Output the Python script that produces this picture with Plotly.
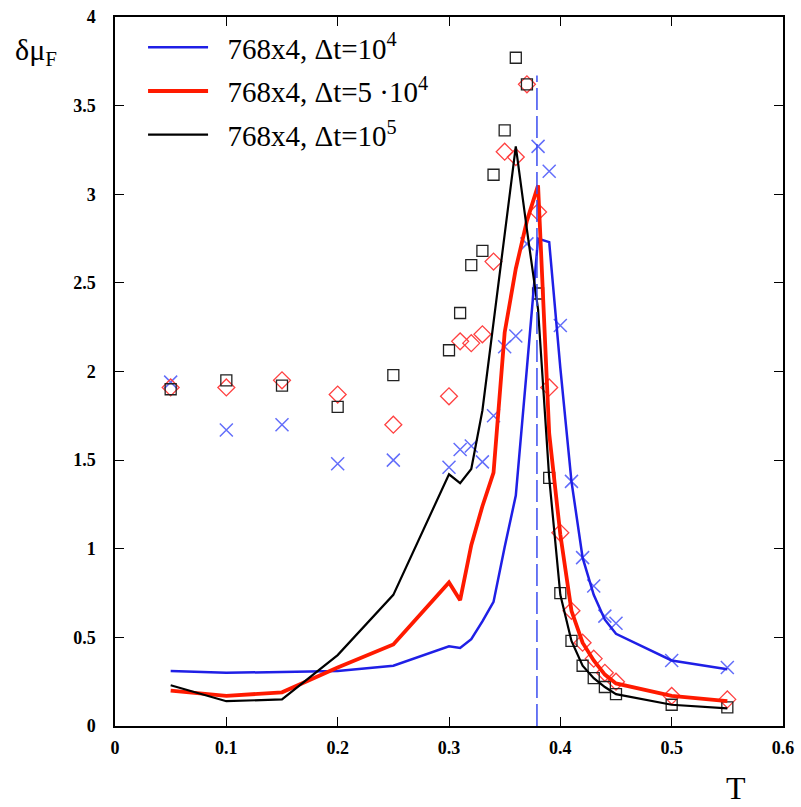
import plotly.graph_objects as go

# ---- data ----
T = [0.05, 0.10, 0.15, 0.20, 0.25, 0.30, 0.31, 0.32, 0.33, 0.34, 0.35, 0.36,
     0.37, 0.38, 0.39, 0.40, 0.41, 0.42, 0.43, 0.44, 0.45, 0.50, 0.55]

# lines
line_dt1e4 = [0.31, 0.30, 0.305, 0.31, 0.34, 0.45, 0.44, 0.49, 0.59, 0.70, 1.01, 1.30,
              2.02, 2.75, 2.73, 2.02, 1.38, 0.95, 0.74, 0.60, 0.52, 0.37, 0.32]
line_dt5e4 = [0.20, 0.17, 0.19, 0.33, 0.46, 0.81, 0.71, 1.02, 1.24, 1.43, 2.22, 2.58,
              2.85, 3.05, 1.65, 1.08, 0.65, 0.47, 0.37, 0.29, 0.24, 0.17, 0.14]
line_dt1e5 = [0.23, 0.14, 0.15, 0.40, 0.74, 1.42, 1.37, 1.45, 1.78, 2.28, 2.78, 3.27,
              2.80, 2.35, 1.40, 0.74, 0.48, 0.34, 0.27, 0.22, 0.18, 0.12, 0.10]

# symbols
pts_x = [1.94, 1.67, 1.70, 1.48, 1.50, 1.46, 1.56, 1.58, 1.49, 1.75, 2.14, 2.20,
         2.72, 3.27, 3.13, 2.26, 1.38, 0.95, 0.79, 0.62, 0.58, 0.37, 0.33]
pts_diamond = [1.91, 1.91, 1.95, 1.87, 1.70, 1.86, 2.17, 2.16, 2.21, 2.62, 3.24, 3.21,
               3.62, 2.90, 1.91, 1.09, 0.65, 0.47, 0.38, 0.30, 0.25, 0.17, 0.15]
pts_square = [1.90, 1.95, 1.92, 1.80, 1.98, 2.12, 2.33, 2.60, 2.68, 3.11, 3.36, 3.77,
              3.62, 2.44, 1.40, 0.75, 0.48, 0.34, 0.27, 0.22, 0.18, 0.12, 0.105]

Tc = 0.379
Tc_top = 3.67

names = ["\u00a0\u00a0768x4, \u0394t=10<sup>4</sup>",
         "\u00a0\u00a0768x4, \u0394t=5 \u00b710<sup>4</sup>",
         "\u00a0\u00a0768x4, \u0394t=10<sup>5</sup>"]

x_ticks = [0, 0.1, 0.2, 0.3, 0.4, 0.5, 0.6]
x_ticktext = ["0", "0.1", "0.2", "0.3", "0.4", "0.5", "0.6"]
y_ticks = [0, 0.5, 1, 1.5, 2, 2.5, 3, 3.5, 4]
y_ticktext = ["0", "0.5", "1", "1.5", "2", "2.5", "3", "3.5", "4"]

BLUE = "#1f1fe6"
RED = "#ff1a00"
BLACK = "#000000"
SERIF = "Liberation Serif"

fig = go.Figure()

# symbols (no legend)
fig.add_trace(go.Scatter(x=T, y=pts_x, mode="markers", showlegend=False,
                         marker=dict(symbol="x-thin-open", size=13,
                                     line=dict(color="#4a55f0", width=1.5))))
fig.add_trace(go.Scatter(x=T, y=pts_diamond, mode="markers", showlegend=False,
                         marker=dict(symbol="diamond-open", size=13, color="#ff4040",
                                     line=dict(color="#ff4040", width=1.3))))
fig.add_trace(go.Scatter(x=T, y=pts_square, mode="markers", showlegend=False,
                         marker=dict(symbol="square-open", size=11, color="#222222",
                                     line=dict(color="#222222", width=1.3))))

# lines
fig.add_trace(go.Scatter(x=T, y=line_dt1e4, mode="lines", name=names[0],
                         legendgroup="a", line=dict(color=BLUE, width=2.5)))
fig.add_trace(go.Scatter(x=T, y=line_dt5e4, mode="lines", name=names[1],
                         legendgroup="b", line=dict(color=RED, width=3.8)))
fig.add_trace(go.Scatter(x=T, y=line_dt1e5, mode="lines", name=names[2],
                         legendgroup="c", line=dict(color=BLACK, width=2.2)))

# dashed critical temperature line
fig.add_trace(go.Scatter(x=[Tc, Tc], y=[0, Tc_top], mode="lines", showlegend=False,
                         line=dict(color="#3a4cf0", width=1.5, dash="22px,6px")))

axis_common = dict(showline=True, linecolor="black", linewidth=1.5, mirror="ticks",
                   ticks="inside", ticklen=9, tickwidth=1.2, tickcolor="black",
                   showgrid=False, zeroline=False, ticklabeloverflow="allow",
                   tickfont=dict(family=SERIF, size=18, color="black", weight="bold"))

fig.update_xaxes(range=[0, 0.6], tickvals=x_ticks, ticktext=x_ticktext,
                 ticklabelstandoff=5, **axis_common)
fig.update_yaxes(range=[0, 4], tickvals=y_ticks, ticktext=y_ticktext,
                 ticklabelstandoff=14, **axis_common)

fig.update_layout(
    width=801, height=807,
    margin=dict(l=115, r=17, t=7, b=81),
    paper_bgcolor="white", plot_bgcolor="white",
    showlegend=True,
    legend=dict(x=0.042, y=0.993, xanchor="left", yanchor="top",
                bgcolor="rgba(0,0,0,0)", borderwidth=0,
                font=dict(family=SERIF, size=29, color="black"),
                itemwidth=60, tracegroupgap=3),
    annotations=[
        dict(text="\u03b4\u03bc<sub>F</sub>", xref="paper", yref="paper",
             x=-0.118, y=0.95, xanchor="center", yanchor="middle", showarrow=False,
             font=dict(family=SERIF, size=30, color="black")),
        dict(text="T", xref="paper", yref="paper",
             x=0.93, y=-0.088, xanchor="center", yanchor="middle", showarrow=False,
             font=dict(family=SERIF, size=32, color="black")),
    ],
)

fig.write_html("out.html", config={"displayModeBar": False},
               post_script="document.body.style.margin='0';document.body.style.padding='0';")
